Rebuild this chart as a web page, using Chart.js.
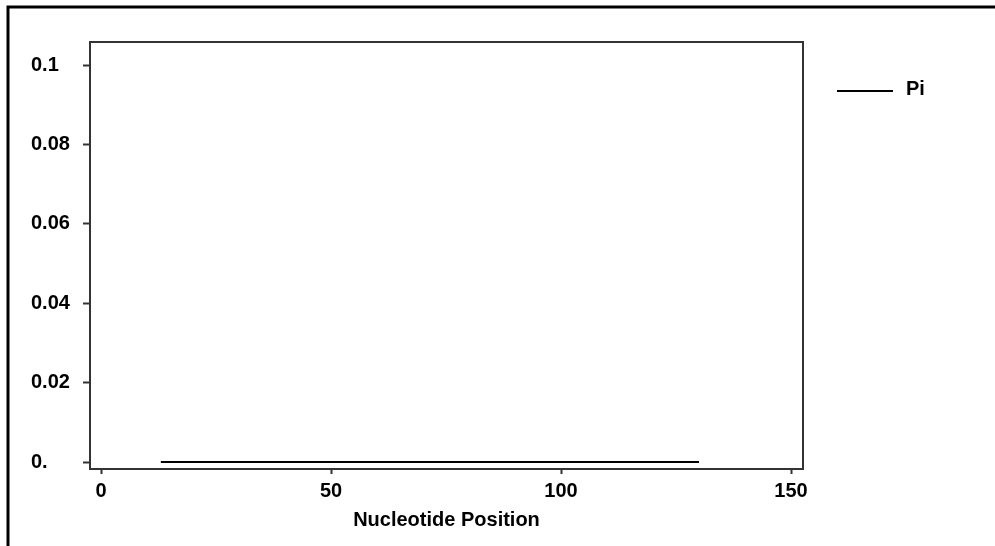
<!DOCTYPE html>
<html>
<head>
<meta charset="utf-8">
<script src="https://cdn.jsdelivr.net/npm/chart.js@4.4.0/dist/chart.umd.min.js"></script>
<style>
  html, body { margin: 0; padding: 0; background: #fff; }
  #wrap { width: 995px; height: 546px; }
</style>
</head>
<body>
<div id="wrap"><canvas id="chartPi"></canvas></div>
<script>
const positions = [13, 130];
const piValues = [0, 0];
const yTicks = [0, 0.02, 0.04, 0.06, 0.08, 0.1];
const xTicks = [0, 50, 100, 150];

const fontTick = { family: 'Liberation Sans, Arial, sans-serif', size: 20, weight: 'bold' };

// cadre extérieur, bord du graphique et légende
const framePlugin = {
    id: 'frame',
    afterDraw(chart) {
        const ctx = chart.ctx;
        const a = chart.chartArea;
        ctx.save();
        ctx.strokeStyle = '#000';
        ctx.lineWidth = 3;
        ctx.beginPath();
        ctx.moveTo(8, 546);
        ctx.lineTo(8, 7);
        ctx.lineTo(995, 7);
        ctx.stroke();

        ctx.strokeStyle = '#333';
        ctx.lineWidth = 2;
        ctx.strokeRect(a.left, a.top, a.right - a.left, a.bottom - a.top);

        const ds = chart.data.datasets[0];
        ctx.strokeStyle = ds.borderColor;
        ctx.lineWidth = ds.borderWidth;
        ctx.beginPath();
        ctx.moveTo(837, 91);
        ctx.lineTo(893, 91);
        ctx.stroke();
        ctx.fillStyle = '#000';
        ctx.font = 'bold 20px Liberation Sans, Arial, sans-serif';
        ctx.textBaseline = 'middle';
        ctx.fillText(ds.label, 906, 89);
        ctx.restore();
    }
};

document.addEventListener('DOMContentLoaded', function () {
    const ctxPi = document.getElementById('chartPi');
    new Chart(ctxPi, {
        type: 'line',
        data: {
            datasets: [{
                label: 'Pi',
                data: positions.map((p, i) => ({ x: p, y: piValues[i] })),
                borderColor: '#000',
                borderWidth: 2,
                pointRadius: 0,
                fill: false
            }]
        },
        options: {
            responsive: true,
            maintainAspectRatio: false,
            animation: false,
            layout: { padding: { left: 31, top: 42, right: 192, bottom: 0 } },
            plugins: { legend: { display: false }, tooltip: { enabled: false } },
            scales: {
                x: {
                    type: 'linear',
                    min: -2.4,
                    max: 152.6,
                    afterBuildTicks: axis => { axis.ticks = xTicks.map(v => ({ value: v })); },
                    afterFit: axis => { axis.height = 77; },
                    grid: { display: true, drawOnChartArea: false, drawTicks: true, tickLength: 5, tickColor: '#333', tickWidth: 2 },
                    border: { display: false },
                    ticks: { color: '#000', font: fontTick, padding: 5, maxRotation: 0 },
                    title: { display: true, text: 'Nucleotide Position', color: '#000', font: fontTick, padding: { top: 0, bottom: 14 } }
                },
                y: {
                    min: -0.00176,
                    max: 0.1058,
                    afterBuildTicks: axis => { axis.ticks = yTicks.map(v => ({ value: v })); },
                    afterFit: axis => { axis.width = 59; },
                    grid: { display: true, drawOnChartArea: false, drawTicks: true, tickLength: 7, tickColor: '#333', tickWidth: 2 },
                    border: { display: false },
                    ticks: {
                        color: '#000', font: fontTick, crossAlign: 'far',
                        callback: v => v === 0 ? '0.' : String(Math.round(v * 100) / 100)
                    }
                }
            }
        },
        plugins: [framePlugin]
    });
});
</script>
</body>
</html>
